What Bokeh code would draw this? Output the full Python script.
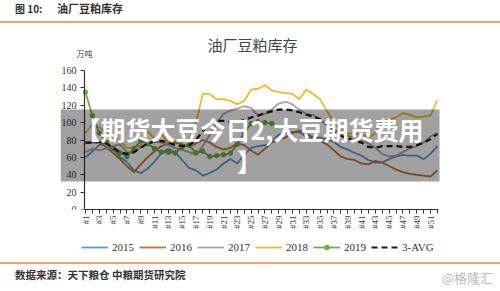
import math
from bokeh.plotting import figure
from bokeh.layouts import column
from bokeh.models import (ColumnDataSource, FixedTicker, Label, BoxAnnotation,
                          Legend, LegendItem, Range1d, Div)
from bokeh.embed import file_html
from bokeh.resources import INLINE

# Weekly soybean meal inventory at crushing plants (10k tonnes)
weeks = list(range(1, 53))
s2015 = [60, 67, 74, 77, 70, 60, 55, 45, 42, 47, 55, 65, 70, 66, 57, 48, 45, 39, 42, 46,
         53, 58, 53, 63, 71, 73, 74, 79, 86, 88, 89, 89, 84, 82, 83, 80, 78, 72, 69, 65,
         62, 57, 54, 54, 58, 61, 63, 62, 62, 58, 64, 73]
s2016 = [77, 77, 77, 72, 65, 58, 50, 43, 52, 60, 67, 73, 76, 77, 75, 72, 76, 80, 77, 72,
         69, 71, 76, 74, 68, 63, 70, 77, 80, 83, 88, 91, 87, 83, 79, 75, 68, 61, 58, 57,
         53, 52, 56, 54, 50, 46, 43, 41, 40, 39, 38, 45]
s2017 = [66, 70, 68, 70, 73, 75, 66, 65, 72, 76, 78, 77, 74, 71, 69, 66, 63, 73, 86, 100,
         110, 114, 116, 119, 117, 108, 110, 115, 122, 124, 121, 115, 110, 109, 103, 97, 92, 88, 85, 82,
         79, 76, 71, 64, 61, 62, 66, 70, 73, 77, 84, 88]
s2018 = [88, 98, 95, 88, 83, 79, 71, 71, 74, 90, 82, 87, 77, 79, 78, 80, 100, 133, 133, 127,
         127, 125, 121, 125, 138, 139, 143, 137, 135, 134, 133, 127, 138, 133, 127, 113, 101, 91, 88, 87,
         87, 82, 88, 102, 104, 106, 111, 109, 106, 107, 108, 126]
s2019 = [135, 108, 88, 78, 70, 65, 61, 70, 79, 76, 70, 66, 66, 65, 72, 74, 65, 67, 61, 62,
         63, 65, 75, 88, 99, 101, 100, 99]
s_avg = [77, 77, 78, 76, 71, 66, 64, 66, 71, 76, 78, 79, 77, 74, 73, 74, 80, 90, 100, 102,
         102, 101, 101, 103, 106, 108, 111, 113, 115, 115, 114, 112, 109, 107, 104, 98, 90, 85, 82, 79,
         77, 72, 71, 73, 73, 73, 72, 72, 74, 77, 81, 87]
y_ticks = [0, 20, 40, 60, 80, 100, 120, 140, 160]
week_labels = {w: (f"#{w}" if w % 2 == 1 else "") for w in weeks}

series_names = ["2015", "2016", "2017", "2018", "2019", "3-AVG"]
colors = ["#5B9BD5", "#C96F33", "#A5A5A5", "#F2BA24", "#70AD47", "#1A1A1A"]

CJK = "Noto Sans CJK SC"
W = 500
HEAD_H, FIG_H, LEG_H, FOOT_H = 24, 213, 25, 29

# page coordinates of the plotting frame (the main figure starts below the header)
FL = 60            # frame left
FB = 209           # frame bottom = value 0
FT = HEAD_H        # frame top
PX_W = 6.9         # pixels per week
W1 = 85            # page x of week 1
PX_V = 139 / 160   # pixels per unit of inventory

header = Div(
    text=(f'<div style="position:relative;width:{W}px;height:{HEAD_H}px;'
          f'font-family:\'{CJK}\';color:#333;">'
          '<span style="position:absolute;left:15px;top:2px;font-size:10px;font-weight:bold;">图 10:</span>'
          '<span style="position:absolute;left:57px;top:1px;font-size:11px;font-weight:bold;">油厂豆粕库存</span>'
          f'<div style="position:absolute;left:0;top:21px;width:{W}px;height:2px;background:#EDA464;"></div>'
          '</div>'),
    width=W, height=HEAD_H, margin=0)

footer = Div(
    text=(f'<div style="position:relative;width:{W}px;height:{FOOT_H}px;'
          f'font-family:\'{CJK}\';">'
          f'<div style="position:absolute;left:0;top:0;width:{W}px;height:2px;background:#EDA464;"></div>'
          '<span style="position:absolute;left:15px;top:5px;font-size:10.5px;font-weight:bold;color:#333;">'
          '数据来源：天下粮仓 中粮期货研究院</span>'
          '<span style="position:absolute;right:7px;top:7px;font-size:13px;color:#BBBBBB;">@格隆汇</span>'
          '</div>'),
    width=W, height=FOOT_H, margin=0)

x_start = 1 - (W1 - FL) / PX_W
x_end = 52 + (W - (W1 + 51 * PX_W)) / PX_W
y_end = (FB - FT) / PX_V

p = figure(width=W, height=FIG_H, output_backend="svg", toolbar_location=None,
           min_border_left=FL, min_border_right=0,
           min_border_top=0, min_border_bottom=HEAD_H + FIG_H - FB,
           x_range=Range1d(x_start, x_end), y_range=Range1d(0, y_end), margin=0)
p.outline_line_color = None
p.xgrid.grid_line_color = None
p.ygrid.grid_line_color = None
p.background_fill_color = "white"
p.border_fill_color = "white"

# axes: the y axis is pinned at the first week so the frame can extend left of it
for ax in (p.xaxis[0], p.yaxis[0]):
    ax.axis_line_color = "#333333"
    ax.axis_line_width = 1.2
    ax.major_tick_line_color = "#333333"
    ax.major_tick_in = 0
    ax.major_tick_out = 4
    ax.minor_tick_line_color = None
    ax.major_label_text_font = "Liberation Serif"
    ax.major_label_text_color = "#333333"

x0 = 1 - 1 / PX_W
p.xaxis.bounds = (x0, 52 + 1 / PX_W)
p.xaxis.ticker = FixedTicker(ticks=weeks)
p.xaxis.major_label_overrides = week_labels
p.xaxis.major_label_orientation = math.pi / 2
p.xaxis.major_label_text_font_size = "9px"
p.xaxis.major_label_standoff = 2
p.yaxis.fixed_location = x0
p.yaxis.bounds = (0, 160)
p.yaxis.ticker = FixedTicker(ticks=y_ticks)
p.yaxis.major_label_text_font_size = "10px"
p.yaxis.major_label_standoff = 4


def series_glyphs(fig, sources):
    """Draw the six series on fig; returns the renderer groups for a legend."""
    groups = []
    for col, src in zip(colors[:4], sources[:4]):
        groups.append([fig.line("x", "y", source=src, line_color=col, line_width=1.8)])
    r19 = fig.line("x", "y", source=sources[4], line_color=colors[4], line_width=1.8)
    c19 = fig.scatter("x", "y", source=sources[4], size=4.5, fill_color=colors[4],
                      line_color=colors[4])
    groups.append([r19, c19])
    groups.append([fig.line("x", "y", source=sources[5], line_color=colors[5],
                            line_width=2.2, line_dash="6 4")])
    return groups


all_series = [s2015, s2016, s2017, s2018, s2019, s_avg]
sources = [ColumnDataSource(dict(x=weeks[:len(v)], y=v)) for v in all_series]
series_glyphs(p, sources)


def sx(cx):
    return cx - FL


def sy(cy):
    return FB - cy


def add_text(text, cx, cy, size, color="#333333", align="left", style="normal",
             level="annotation"):
    p.add_layout(Label(x=sx(cx), y=sy(cy), x_units="screen", y_units="screen",
                       text=text, text_font=CJK, text_font_size=f"{size}px",
                       text_color=color, text_align=align, text_baseline="middle",
                       text_font_style=style, level=level))


add_text("油厂豆粕库存", 252, 44, 15, color="#444444", align="center")
add_text("万吨", 76, 53, 8)

# headline banner across the chart
p.add_layout(BoxAnnotation(left=sx(60), right=sx(439), top=sy(109), bottom=sy(181),
                           left_units="screen", right_units="screen",
                           top_units="screen", bottom_units="screen",
                           fill_color="black", fill_alpha=0.37, line_color=None,
                           level="overlay"))
add_text("【期货大豆今日2,大豆期货费用", 249, 128, 25, color="white", align="center",
         style="bold", level="overlay")
add_text("】", 249, 160, 25, color="white", align="center", style="bold",
         level="overlay")

# legend strip below the chart: same series styles, data kept out of its view
leg = figure(width=W, height=LEG_H, output_backend="svg", toolbar_location=None,
             x_axis_type=None, y_axis_type=None, min_border=0, margin=0,
             x_range=Range1d(-2, -1), y_range=Range1d(-2, -1))
leg.outline_line_color = None
leg.xgrid.grid_line_color = None
leg.ygrid.grid_line_color = None
groups = series_glyphs(leg, sources)
legend = Legend(items=[LegendItem(label=n, renderers=rs) for n, rs in zip(series_names, groups)],
                orientation="horizontal", location=(81 - FL, 9),
                glyph_width=27, glyph_height=12, label_height=12,
                label_standoff=4, spacing=5, padding=0, margin=0,
                label_text_font="Liberation Serif", label_text_font_size="11px",
                label_text_color="#333333",
                border_line_color=None, background_fill_alpha=0)
leg.add_layout(legend, "center")

page = column(header, p, leg, footer, spacing=0, margin=0)
open("out.html", "w").write(file_html(page, INLINE))
